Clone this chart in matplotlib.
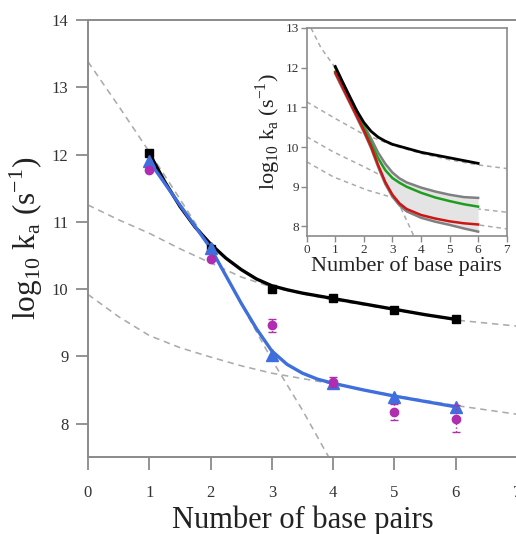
import numpy as np
import matplotlib
matplotlib.use("Agg")
import matplotlib.pyplot as plt

plt.rcParams['font.family'] = ['Liberation Serif', 'DejaVu Serif']
plt.rcParams['mathtext.fontset'] = 'custom'
plt.rcParams['mathtext.rm'] = 'Liberation Serif'

# ---------------- main panel data ----------------
n_bp = [1, 2, 3, 4, 5, 6]
black_sq = [12.02, 10.60, 10.00, 9.87, 9.69, 9.55]
blue_tri = [11.90, 10.61, 9.02, 8.61, 8.40, 8.25]
mag_pts = [11.77, 10.45, 9.46, 8.62, 8.17, 8.07]
mag_err = [0.0, 0.0, 0.10, 0.07, 0.12, 0.20]

# fitted curves
black_fit_x = [1, 1.25, 1.5, 1.75, 2, 2.25, 2.5, 2.75, 3, 3.25, 3.5, 4, 4.5, 5, 5.5, 6]
black_fit_y = [12.02, 11.60, 11.23, 10.92, 10.67, 10.46, 10.29, 10.15, 10.05, 9.99,
               9.94, 9.86, 9.78, 9.70, 9.62, 9.55]
blue_fit_x = [1, 1.5, 2, 2.25, 2.5, 2.75, 3, 3.25, 3.5, 3.75, 4, 4.5, 5, 5.5, 6]
blue_fit_y = [11.90, 11.25, 10.61, 10.20, 9.79, 9.41, 9.08, 8.88, 8.75, 8.66,
              8.60, 8.50, 8.41, 8.33, 8.25]

# dashed asymptotic curves
dashA_x = [0, 0.5, 1, 1.5, 2, 2.5, 3, 3.5, 3.93]
dashA_y = [13.38, 12.72, 12.04, 11.34, 10.62, 9.78, 8.95, 8.20, 7.50]
dashB_x = [0, 0.5, 1, 1.5, 2, 2.5, 3, 3.5, 4, 5, 6, 7]
dashB_y = [11.25, 11.03, 10.83, 10.60, 10.39, 10.18, 10.03, 9.93, 9.84, 9.69, 9.54, 9.45]
dashC_x = [0, 0.5, 1, 1.5, 2, 2.5, 3, 3.5, 4, 5, 6, 7]
dashC_y = [9.92, 9.59, 9.31, 9.13, 8.99, 8.86, 8.75, 8.67, 8.59, 8.42, 8.27, 8.14]

# ---------------- inset data ----------------
in_x = [1, 1.25, 1.5, 1.75, 2, 2.25, 2.5, 2.75, 3, 3.25, 3.5, 4, 4.5, 5, 5.5, 6]
in_black = [12.03, 11.65, 11.28, 10.92, 10.62, 10.40, 10.25, 10.15, 10.07, 10.02,
            9.97, 9.87, 9.80, 9.73, 9.66, 9.59]
in_gray_up = [12.00, 11.64, 11.28, 10.91, 10.55, 10.22, 9.86, 9.58, 9.36, 9.21,
              9.11, 8.98, 8.88, 8.80, 8.74, 8.72]
in_green = [11.90, 11.55, 11.20, 10.85, 10.50, 10.10, 9.72, 9.42, 9.22, 9.10,
            9.00, 8.85, 8.73, 8.64, 8.56, 8.50]
in_red = [11.88, 11.52, 11.15, 10.79, 10.42, 10.02, 9.55, 9.12, 8.80, 8.58,
          8.44, 8.29, 8.20, 8.13, 8.08, 8.05]
in_gray_lo = [11.85, 11.48, 11.12, 10.75, 10.38, 9.98, 9.50, 9.07, 8.75, 8.53,
              8.38, 8.22, 8.12, 8.04, 7.95, 7.87]

in_dA_x = [0.15, 0.5, 1, 1.5, 2, 2.5, 3, 3.5, 3.75]
in_dA_y = [13.00, 12.50, 12.00, 11.30, 10.60, 9.80, 8.92, 8.15, 7.76]
in_dB_x = [0, 1, 1.3, 1.92, 3, 4, 5, 6, 7]
in_dB_y = [11.14, 10.72, 10.60, 10.35, 10.05, 9.84, 9.68, 9.55, 9.46]
in_dD_x = [0, 0.93, 2.1, 2.91, 4, 5, 6, 7]
in_dD_y = [10.26, 9.88, 9.47, 9.17, 8.90, 8.65, 8.44, 8.36]
in_dC_x = [0, 0.93, 2.1, 3.15, 4, 5, 6, 7]
in_dC_y = [9.63, 9.25, 8.92, 8.70, 8.50, 8.25, 8.04, 7.94]

dash_col = '#ababab'
spine_col = '#8a8a8a'
blue = '#3f6fdc'
magenta = '#b02cb0'

fig = plt.figure(figsize=(5.16, 5.34), dpi=100)

# ---------------- main axes ----------------
ax = fig.add_axes([88 / 516, 76.7 / 534, 429 / 516, 437.3 / 534])
for xs, ys in [(dashA_x, dashA_y), (dashB_x, dashB_y), (dashC_x, dashC_y)]:
    ax.plot(xs, ys, ls=(0, (4, 3)), color=dash_col, lw=1.15, zorder=1)

ax.plot(black_fit_x, black_fit_y, color='black', lw=2.4, zorder=3)
ax.plot(n_bp, black_sq, ls='none', marker='s', ms=5.5, color='black', zorder=4)
ax.plot(blue_fit_x, blue_fit_y, color=blue, lw=2.4, zorder=3)
ax.plot(n_bp, blue_tri, ls='none', marker='^', ms=8, color=blue, zorder=5)
eb = ax.errorbar(n_bp, mag_pts, yerr=mag_err, fmt='o', ms=6, color=magenta,
                 ecolor=magenta, elinewidth=1.0, capsize=3, capthick=1.0, zorder=6)
eb[2][0].set_linestyle(':')

ax.set_xlim(0, 7)
ax.set_ylim(7.5, 14)
ax.set_xticks(range(0, 8))
ax.set_yticks(range(8, 15))
ax.spines['right'].set_visible(False)
for s in ['left', 'bottom', 'top']:
    ax.spines[s].set_color(spine_col)
    ax.spines[s].set_linewidth(1.4)
ax.tick_params(axis='both', direction='out', length=9, width=1.3, color=spine_col,
               labelsize=12, labelcolor='#333333')
ax.tick_params(axis='x', pad=11)
ax.tick_params(axis='y', pad=5)
ax.set_xlabel('Number of base pairs', fontsize=22, color='#222222')
ax.xaxis.set_label_coords(0.5, -0.110)
ax.set_ylabel(r'log$_{\mathregular{10}}$ k$_{\mathregular{a}}$ (s$^{\mathregular{-1}}$)',
              fontsize=22.5, color='#222222')
ax.yaxis.set_label_coords(-0.10, 0.5)

# ---------------- inset ----------------
ins = fig.add_axes([306.7 / 516, 298 / 534, 200 / 516, 208 / 534])
for xs, ys in [(in_dA_x, in_dA_y), (in_dB_x, in_dB_y), (in_dD_x, in_dD_y), (in_dC_x, in_dC_y)]:
    ins.plot(xs, ys, ls=(0, (3, 2.5)), color=dash_col, lw=1.1, zorder=1)

# shaded band between the two grey bounds
ins.fill_between(in_x, in_gray_up, in_gray_lo, color='#e4e4e4', lw=0, zorder=2)
ins.plot(in_x, in_gray_up, color='#808080', lw=1.8, zorder=3)
ins.plot(in_x, in_gray_lo, color='#808080', lw=1.8, zorder=3)
ins.plot(in_x, in_green, color='#1e9e1e', lw=1.8, zorder=4)
ins.plot(in_x, in_red, color='#cc1515', lw=1.8, zorder=5)
ins.plot(in_x, in_black, color='black', lw=2.0, zorder=6)

ins.set_xlim(0, 7)
ins.set_ylim(7.76, 13)
ins.set_xticks(range(0, 8))
ins.set_yticks(range(8, 14))
for s in ins.spines.values():
    s.set_color(spine_col)
    s.set_linewidth(1.2)
ins.tick_params(axis='both', direction='out', length=4, width=1.0, color=spine_col,
                labelsize=9.5, labelcolor='#333333', pad=1.5)
ins.set_xlabel('Number of base pairs', fontsize=16, color='#222222', labelpad=0)
ins.set_ylabel(r'log$_{\mathregular{10}}$ k$_{\mathregular{a}}$ (s$^{\mathregular{-1}}$)',
               fontsize=16, color='#222222', labelpad=2)

fig.savefig('out.png', dpi=100)
